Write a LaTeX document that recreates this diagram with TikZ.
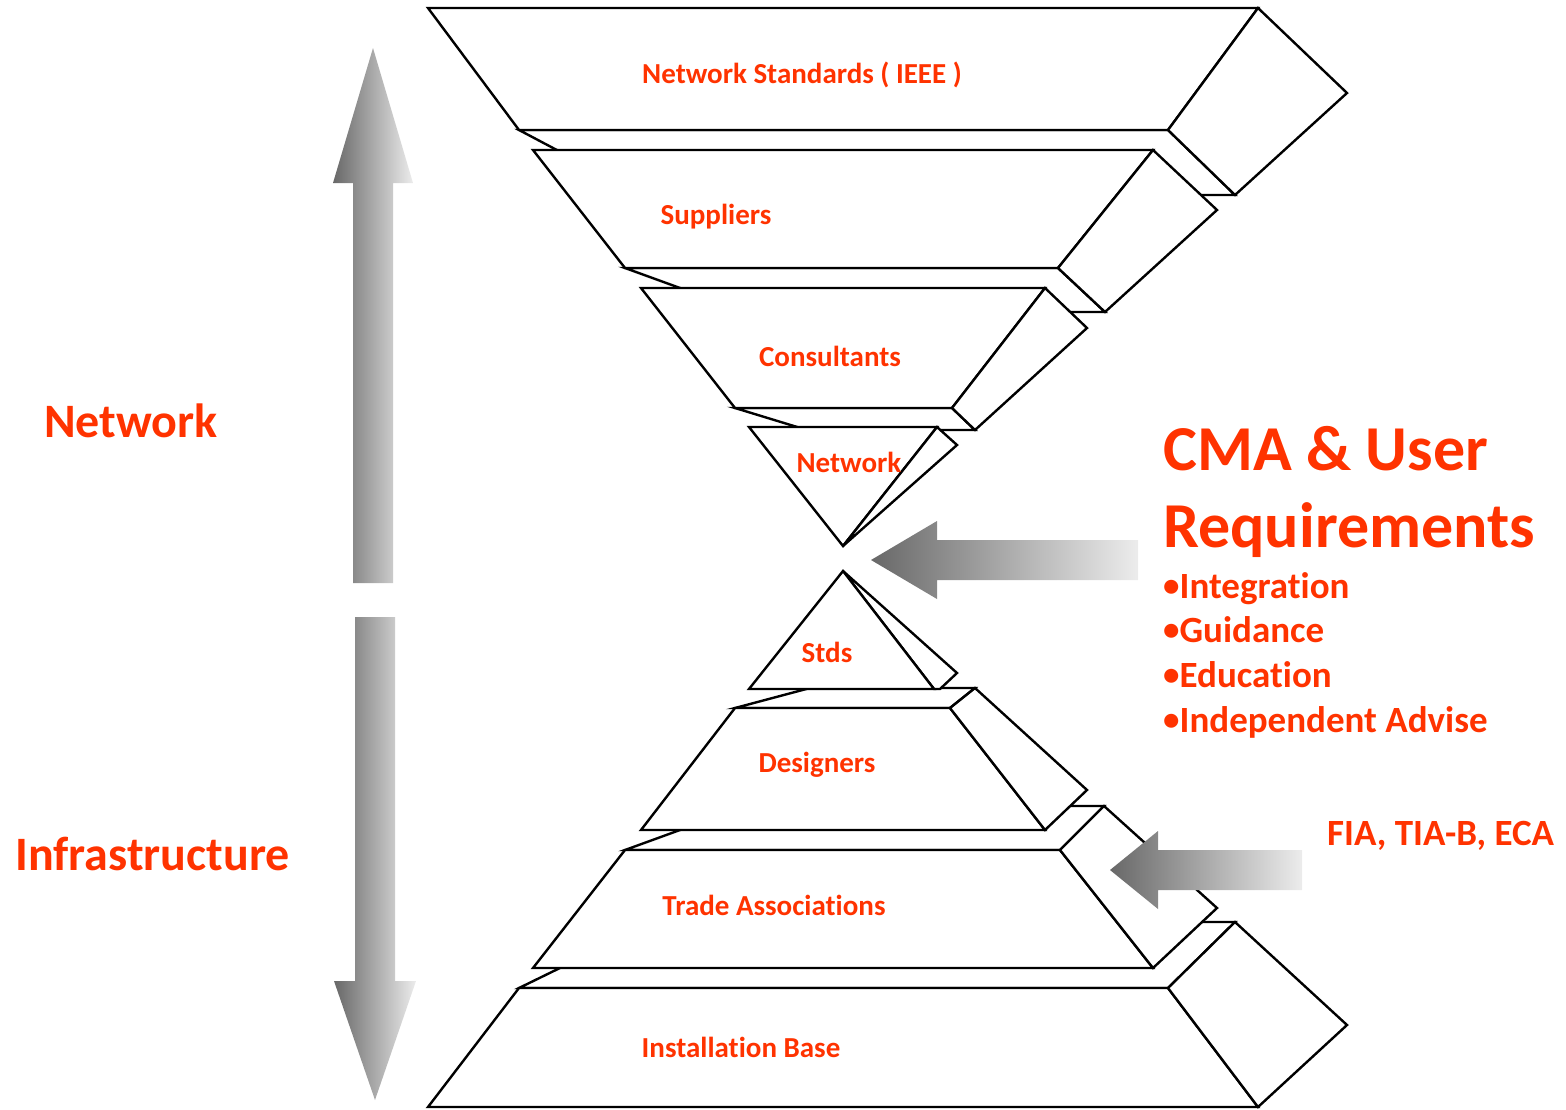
\documentclass[tikz,border=0pt]{standalone}
\usepackage{fontspec}
\setmainfont{Carlito}[Ligatures=NoCommon]
\usetikzlibrary{positioning}
\definecolor{labelred}{HTML}{FF3300}
\definecolor{arrowdark}{HTML}{686868}
\definecolor{arrowlight}{HTML}{ECECEC}
\newcommand{\bul}{\raisebox{1.5pt}{\fontsize{33}{34}\selectfont •}}
\tikzset{
  face/.style={draw,fill=white,line width=2.4pt,line join=miter},
  lbl/.style={text=labelred,font=\bfseries\fontsize{29}{34}\selectfont,inner sep=0pt},
  side/.style={text=labelred,font=\bfseries\fontsize{48}{54}\selectfont,inner sep=0pt,anchor=base west},
  bigtext/.style={text=labelred,font=\bfseries\fontsize{64}{70}\selectfont,inner sep=0pt,anchor=base west},
  bullet/.style={text=labelred,font=\bfseries\fontsize{37}{42}\selectfont,inner sep=0pt,anchor=base west},
  fatarrow/.style={left color=arrowdark,right color=arrowlight}
}
\begin{document}
\begin{tikzpicture}[x=1pt,y=-1pt]
    \useasboundingbox (0,0) rectangle (1566,1109);

    % upper funnel, from the top down
    \draw[face] (519,130) -- (1168,130) -- (1235,195) -- (642,195) -- cycle;
    \draw[face] (428,8) -- (1258,8) -- (1168,130) -- (519,130) -- cycle;
    \draw[face] (1258,8) -- (1347,93) -- (1235,195) -- (1168,130) -- cycle;

    \draw[face] (625,268) -- (1058,268) -- (1105,312) -- (746,312) -- cycle;
    \draw[face] (533,150) -- (1153,150) -- (1058,268) -- (625,268) -- cycle;
    \draw[face] (1153,150) -- (1217,210) -- (1105,312) -- (1058,268) -- cycle;

    \draw[face] (735,408) -- (952,408) -- (975,430) -- (807,430) -- cycle;
    \draw[face] (641,288) -- (1045,288) -- (952,408) -- (735,408) -- cycle;
    \draw[face] (1045,288) -- (1087,328) -- (975,430) -- (952,408) -- cycle;

    \draw[face] (749,427) -- (937,427) -- (843,546) -- cycle;
    \draw[face] (937,427) -- (957,445) -- (843,546) -- cycle;

    % lower pyramid, from the bottom up
    \draw[face] (519,988) -- (654,922) -- (1235,922) -- (1168,988) -- cycle;
    \draw[face] (519,988) -- (1168,988) -- (1258,1107) -- (428,1107) -- cycle;
    \draw[face] (1168,988) -- (1235,922) -- (1347,1025) -- (1258,1107) -- cycle;

    \draw[face] (625,850) -- (746,806) -- (1104,806) -- (1060,850) -- cycle;
    \draw[face] (625,850) -- (1060,850) -- (1153,968) -- (533,968) -- cycle;
    \draw[face] (1060,850) -- (1104,806) -- (1217,908) -- (1153,968) -- cycle;

    \draw[face] (735,708) -- (810,688) -- (975,688) -- (950,708) -- cycle;
    \draw[face] (735,708) -- (950,708) -- (1045,830) -- (641,830) -- cycle;
    \draw[face] (950,708) -- (975,688) -- (1087,790) -- (1045,830) -- cycle;

    \draw[face] (843,571) -- (957,673) -- (940,689) -- (934,689) -- cycle;
    \draw[face] (843,571) -- (934,689) -- (749,689) -- cycle;

    % shaded arrows
    \shade[fatarrow] (353,583) -- (353,183) -- (333,183) -- (373,48) -- (413,183) -- (393,183) -- (393,583) -- cycle;
    \shade[fatarrow] (355,617) -- (395,617) -- (395,981) -- (416,981) -- (375,1100) -- (334,981) -- (355,981) -- cycle;
    \shade[fatarrow] (1138,540) -- (937,540) -- (937,521) -- (871,560) -- (937,599) -- (937,580) -- (1138,580) -- cycle;
    \shade[fatarrow] (1302,850) -- (1158,850) -- (1158,831) -- (1110,870) -- (1158,909) -- (1158,890) -- (1302,890) -- cycle;

    % slab labels
    \node at (802,83) [lbl,anchor=base] (ieee) {Network Standards ( IEEE )};
    \node at (716,224) [lbl,anchor=base] (suppliers) {Suppliers};
    \node at (830,366) [lbl,anchor=base] (consultants) {Consultants};
    \node at (849,472) [lbl,anchor=base] (network) {Network};
    \node at (827,662) [lbl,anchor=base] (stds) {Stds};
    \node at (817,772) [lbl,anchor=base] (designers) {Designers};
    \node at (774,915) [lbl,anchor=base] (trade) {Trade Associations};
    \node at (741,1057) [lbl,anchor=base] (base) {Installation Base};

    % side texts
    \node at (44,437) [side] (netside) {Network};
    \node at (15,870) [side] (infside) {Infrastructure};
    \node at (1163,470) [bigtext] (cma) {CMA \& User};
    \node at (1163,547) [bigtext] (req) {Requirements};
    \node at (1163,598) [bullet] (integ) {\bul Integration};
    \node at (1163,642) [bullet] (guide) {\bul Guidance};
    \node at (1163,687) [bullet] (edu) {\bul Education};
    \node at (1163,732) [bullet] (advise) {\bul Independent Advise};
    \node at (1327,845) [bullet] (fia) {FIA, TIA-B, ECA};
\end{tikzpicture}
\end{document}
